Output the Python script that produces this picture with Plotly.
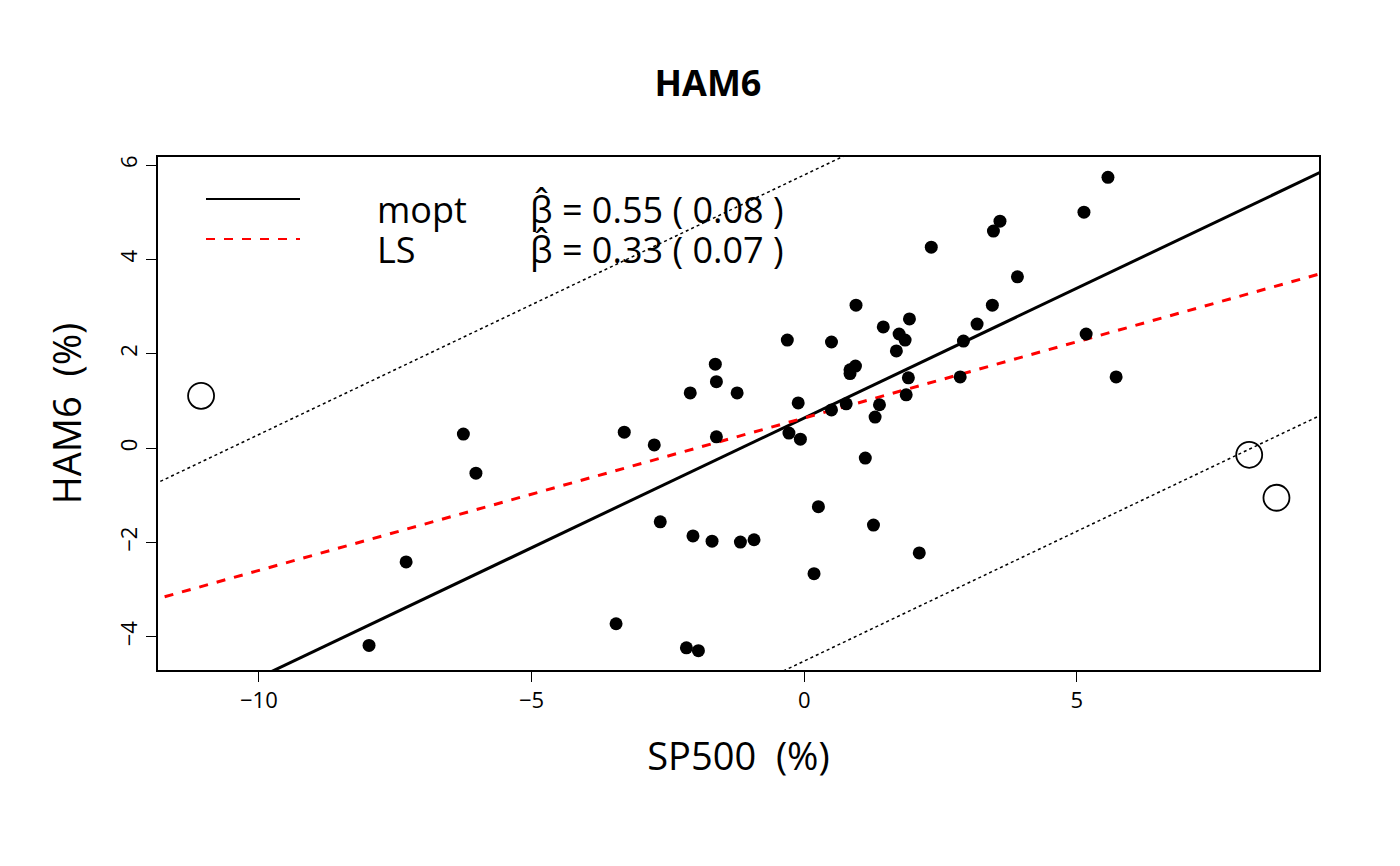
import plotly.graph_objects as go
import numpy as np

sp500 = [5.57,5.13,3.59,3.47,2.33,3.91,3.45,0.95,3.17,1.93,1.45,1.74,1.85,5.17,2.92,-0.31,0.50,1.69,-1.63,0.94,0.84,0.84,1.91,2.86,5.72,-1.61,-2.09,-1.23,1.87,-0.11,0.77,1.38,0.50,1.30,-3.30,-6.25,-0.28,-1.61,-0.07,-2.75,-6.02,1.12,0.26,-2.64,1.27,-2.04,-1.69,-1.17,-0.92,2.11,-7.30,0.18,-3.45,-2.16,-1.94,-7.98]
ham6 = [5.74,5.00,4.81,4.60,4.26,3.63,3.03,3.03,2.63,2.74,2.57,2.42,2.29,2.42,2.27,2.29,2.25,2.06,1.78,1.74,1.66,1.58,1.49,1.51,1.51,1.41,1.17,1.17,1.13,0.96,0.94,0.92,0.81,0.66,0.34,0.30,0.32,0.24,0.19,0.07,-0.53,-0.21,-1.24,-1.56,-1.63,-1.86,-1.97,-1.99,-1.94,-2.22,-2.41,-2.66,-3.72,-4.23,-4.29,-4.18]
out_x = [-11.06, 8.16, 8.66]
out_y = [1.11, -0.14, -1.05]
mopt_int, mopt_slope = 0.64, 0.55
ls_int, ls_slope = 0.64, 0.323
band = 5.15
xr = [-11.85, 9.44]
yr = [-4.7, 6.17]

fig = go.Figure()
xl = np.array([-13, 11])
fig.add_trace(go.Scatter(x=xl, y=mopt_int + mopt_slope*xl, mode="lines", line=dict(color="black", width=3)))
fig.add_trace(go.Scatter(x=xl, y=ls_int + ls_slope*xl, mode="lines", line=dict(color="red", width=3, dash="dash")))
for s in (band, -band):
    fig.add_trace(go.Scatter(x=xl, y=mopt_int + s + mopt_slope*xl, mode="lines", line=dict(color="black", width=1.5, dash="dot")))
fig.add_trace(go.Scatter(x=sp500, y=ham6, mode="markers", marker=dict(color="black", size=13)))
fig.add_trace(go.Scatter(x=out_x, y=out_y, mode="markers", marker=dict(color="rgba(0,0,0,0)", size=26, line=dict(color="black", width=1.8))))

W, H = 1400, 866
# reference plot box: x 158..1319, y 156..669 ; page renders offset by ~8px
L0, R0, T0, B0 = 158, 1319, 156, 669
l, r, t, b = L0 - 8, W - R0 + 8, T0 - 7, H - B0 + 7
def px(xp): return (xp - L0) / (R0 - L0)
def py(yp): return 1 - (yp - T0) / (B0 - T0)

fig.add_shape(type="line", xref="paper", yref="paper", x0=px(206), x1=px(300), y0=py(198), y1=py(198), line=dict(color="black", width=2))
fig.add_shape(type="line", xref="paper", yref="paper", x0=px(206), x1=px(300), y0=py(238), y1=py(238), line=dict(color="red", width=2, dash="dash"))
f = dict(family="Open Sans", size=36, color="black")
for txt, xp, yp in [("mopt", 375, 208), ("LS", 375, 248), ("β̂ = 0.55 ( 0.08 )", 528, 208), ("β̂ = 0.33 ( 0.07 )", 528, 248)]:
    fig.add_annotation(xref="paper", yref="paper", x=px(xp), y=py(yp), text=txt, showarrow=False, xanchor="left", yanchor="middle", font=f)

ax = dict(showline=True, linecolor="black", linewidth=1.5, mirror=True, ticks="outside", ticklen=10, tickcolor="black",
          showgrid=False, zeroline=False, tickfont=dict(family="Open Sans", size=22, color="black"))
tf = dict(family="Open Sans", size=38, color="black")
fig.update_xaxes(**ax, range=xr, tickvals=[-10, -5, 0, 5], title=dict(text="SP500  (%)", font=tf, standoff=30))
fig.update_yaxes(**ax, range=yr, tickvals=[-4, -2, 0, 2, 4, 6], tickangle=-90, title=dict(text="HAM6  (%)", font=tf, standoff=20))
fig.update_layout(width=W, height=H, margin=dict(l=l, r=r, t=t, b=b), showlegend=False,
                  plot_bgcolor="white", paper_bgcolor="white",
                  title=dict(text="<b>HAM6</b>", x=0.5, xref="container", y=1 - 75/H, yanchor="middle", font=dict(family="Open Sans", size=36, color="black")))
fig.write_html("out.html")
